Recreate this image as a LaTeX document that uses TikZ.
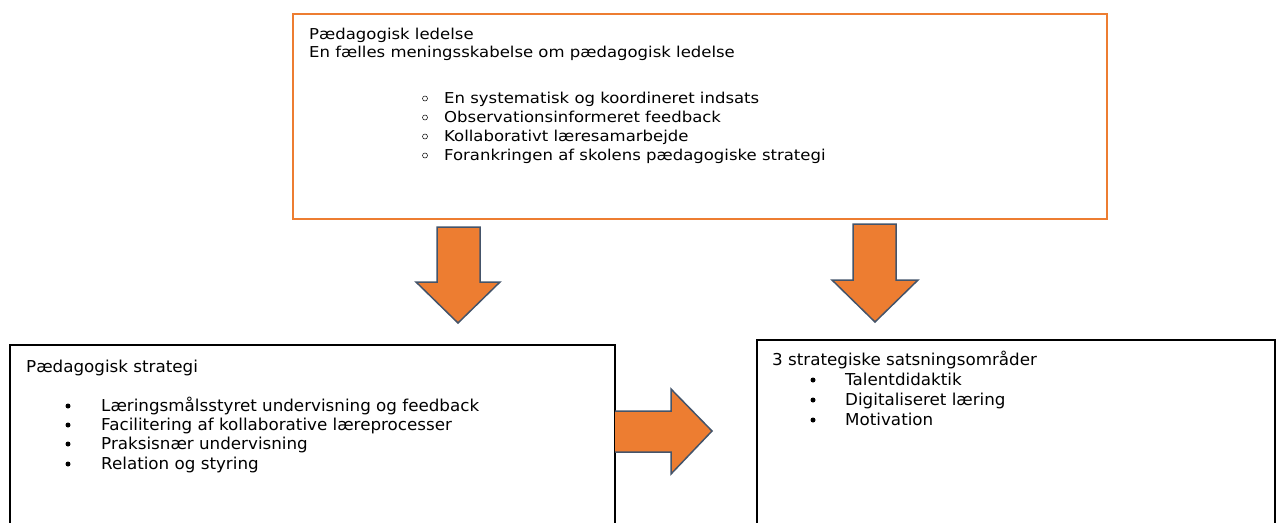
\documentclass[tikz,border=0pt]{standalone}
\usepackage{fontspec}
\setmainfont{DejaVu Sans}
\newfontfamily\topfont[FakeStretch=1.1]{DejaVu Sans}
\newfontfamily\lowfont[FakeStretch=1.02]{DejaVu Sans}
\definecolor{accent}{HTML}{ED7D31}
\definecolor{arrowline}{HTML}{44546A}
\tikzset{
  topbox/.style={draw=accent, line width=2pt},
  lowbox/.style={draw=black, line width=1.6pt},
  bigarrow/.style={fill=accent, draw=arrowline, line width=1.5pt, line join=miter},
  toptext/.style={anchor=base west, inner sep=0pt, font=\topfont\fontsize{15}{18}\selectfont},
  lowtext/.style={anchor=base west, inner sep=0pt, font=\lowfont\fontsize{16.4}{19}\selectfont},
  hollowdot/.style={draw=black, line width=0.5pt, circle, inner sep=0pt, minimum size=5pt},
  filldot/.style={fill=black, circle, inner sep=0pt, minimum size=5pt}
}
\begin{document}
\begin{tikzpicture}[x=1pt,y=-1pt]
\useasboundingbox (0,0) rectangle (1279,522);
% top box
\draw[topbox] (293,14) rectangle (1107,219);
\node[toptext] (t1) at (309,39) {Pædagogisk ledelse};
\node[toptext] (t2) at (309,57) {En fælles meningsskabelse om pædagogisk ledelse};
\foreach \y/\txt [count=\i] in {103/En systematisk og koordineret indsats,122/Observationsinformeret feedback,141/Kollaborativt læresamarbejde,160/Forankringen af skolens pædagogiske strategi}{
  \node[hollowdot] (tb\i) at (425,\y-4.5) {};
  \node[toptext] (ti\i) at (444,\y) {\txt};
}
% down arrows
\draw[bigarrow] (437,227) -- (480,227) -- (480,282) -- (500,282) -- (458,323) -- (416,282) -- (437,282) -- cycle;
\draw[bigarrow] (853,224) -- (896,224) -- (896,280) -- (918,280) -- (875,322) -- (832,280) -- (853,280) -- cycle;
% left box
\draw[lowbox] (10,530) -- (10,345) -- (615,345) -- (615,530);
\node[lowtext] (l0) at (26,372) {Pædagogisk strategi};
\foreach \y/\txt [count=\i] in {411/Læringsmålsstyret undervisning og feedback,430/Facilitering af kollaborative læreprocesser,449/Praksisnær undervisning,469/Relation og styring}{
  \node[filldot] (lb\i) at (68,\y-5) {};
  \node[lowtext] (li\i) at (101,\y) {\txt};
}
% right arrow
\draw[bigarrow] (615,411) -- (671,411) -- (671,389) -- (712,431) -- (671,474) -- (671,452) -- (615,452);
% right box
\draw[lowbox] (757,530) -- (757,340) -- (1275,340) -- (1275,530);
\node[lowtext] (r0) at (772,365) {3 strategiske satsningsområder};
\foreach \y/\txt [count=\i] in {385/Talentdidaktik,405/Digitaliseret læring,425/Motivation}{
  \node[filldot] (rb\i) at (813,\y-5) {};
  \node[lowtext] (ri\i) at (845,\y) {\txt};
}
\end{tikzpicture}
\end{document}
